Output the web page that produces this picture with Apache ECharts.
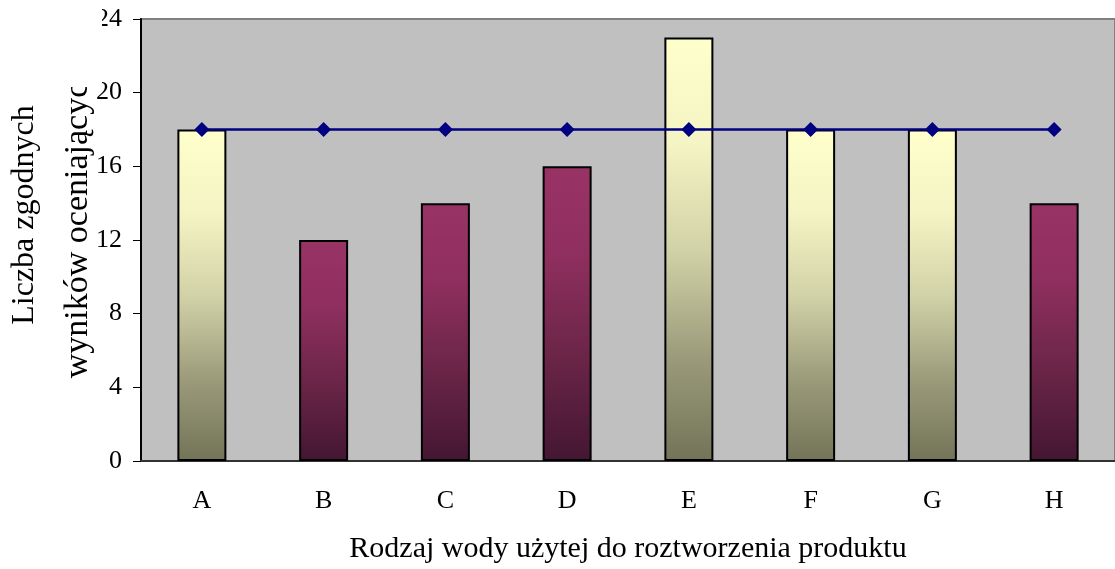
<!DOCTYPE html>
<html>
<head>
<meta charset="utf-8">
<script src="https://cdn.jsdelivr.net/npm/echarts@6/dist/echarts.min.js"></script>
<style>
  html, body { margin: 0; padding: 0; background: #ffffff; }
  #chart { width: 1115px; height: 569px; }
</style>
</head>
<body>
<div id="chart"></div>
<script>
// Water types used to reconstitute the product
const categories = ['A', 'B', 'C', 'D', 'E', 'F', 'G', 'H'];
// Number of consistent results per water type
const results = [18, 12, 14, 16, 23, 18, 18, 14];
// Bar colour group per category: 'light' or 'dark'
const barGroups = ['light', 'dark', 'dark', 'dark', 'light', 'light', 'light', 'dark'];
// Required threshold level
const threshold = [18, 18, 18, 18, 18, 18, 18, 18];
const yTicks = { min: 0, max: 24, interval: 4 };

const FONT = '"Liberation Serif", "Times New Roman", serif';

const gradients = {
  light: new echarts.graphic.LinearGradient(0, 0, 0, 1, [
    { offset: 0, color: '#FFFFCC' },
    { offset: 0.25, color: '#F4F4C4' },
    { offset: 0.5, color: '#D2D2A8' },
    { offset: 0.75, color: '#9C9C7C' },
    { offset: 1, color: '#737358' }
  ]),
  dark: new echarts.graphic.LinearGradient(0, 0, 0, 1, [
    { offset: 0, color: '#993366' },
    { offset: 0.3, color: '#8F2F5F' },
    { offset: 0.65, color: '#6A2547' },
    { offset: 1, color: '#441632' }
  ])
};

const chart = echarts.init(document.getElementById('chart'), null, { renderer: 'canvas' });

chart.setOption({
  animation: false,
  backgroundColor: '#ffffff',
  grid: {
    left: 141, right: -2, top: 19, bottom: 108,
    show: true,
    backgroundColor: '#C0C0C0',
    borderColor: '#808080',
    borderWidth: 2
  },
  xAxis: {
    type: 'category',
    data: categories,
    name: 'Rodzaj wody użytej do roztworzenia produktu',
    nameLocation: 'middle',
    nameGap: 73,
    nameTextStyle: { fontFamily: FONT, fontSize: 30, color: '#000' },
    axisLine: { lineStyle: { color: '#333', width: 2 } },
    axisTick: { show: false },
    axisLabel: { fontFamily: FONT, fontSize: 26, color: '#000', margin: 27 }
  },
  yAxis: {
    type: 'value',
    min: yTicks.min, max: yTicks.max, interval: yTicks.interval,
    axisLine: { show: true, lineStyle: { color: '#000', width: 2 } },
    axisTick: { show: true, length: 8, lineStyle: { color: '#000', width: 1 } },
    axisLabel: { fontFamily: FONT, fontSize: 26, color: '#000', margin: 19 },
    splitLine: { show: false }
  },
  series: [
    {
      type: 'bar',
      barWidth: 49,
      data: results.map((v, i) => ({
        value: v,
        itemStyle: { color: gradients[barGroups[i]] }
      })),
      itemStyle: { borderColor: '#000', borderWidth: 2 },
      z: 2
    },
    {
      type: 'line',
      data: threshold,
      symbol: 'diamond',
      symbolSize: 15,
      lineStyle: { color: '#000080', width: 2.5 },
      itemStyle: { color: '#000080' },
      z: 3
    }
  ],
  graphic: [
    {
      type: 'text',
      x: 25, y: 215,
      rotation: Math.PI / 2,
      style: {
        text: 'Liczba zgodnych',
        font: '32px ' + FONT,
        fill: '#000',
        textAlign: 'center',
        textVerticalAlign: 'middle'
      }
    },
    {
      type: 'text',
      x: 78, y: 222,
      rotation: Math.PI / 2,
      style: {
        text: 'wyników oceniających',
        font: '34px ' + FONT,
        fill: '#000',
        textAlign: 'center',
        textVerticalAlign: 'middle'
      }
    },
    {
      // title box edge: the second line is cut off here
      type: 'rect',
      shape: { x: 58, y: 0, width: 44, height: 87 },
      style: { fill: '#ffffff' },
      z: 100
    }
  ]
});
</script>
</body>
</html>
